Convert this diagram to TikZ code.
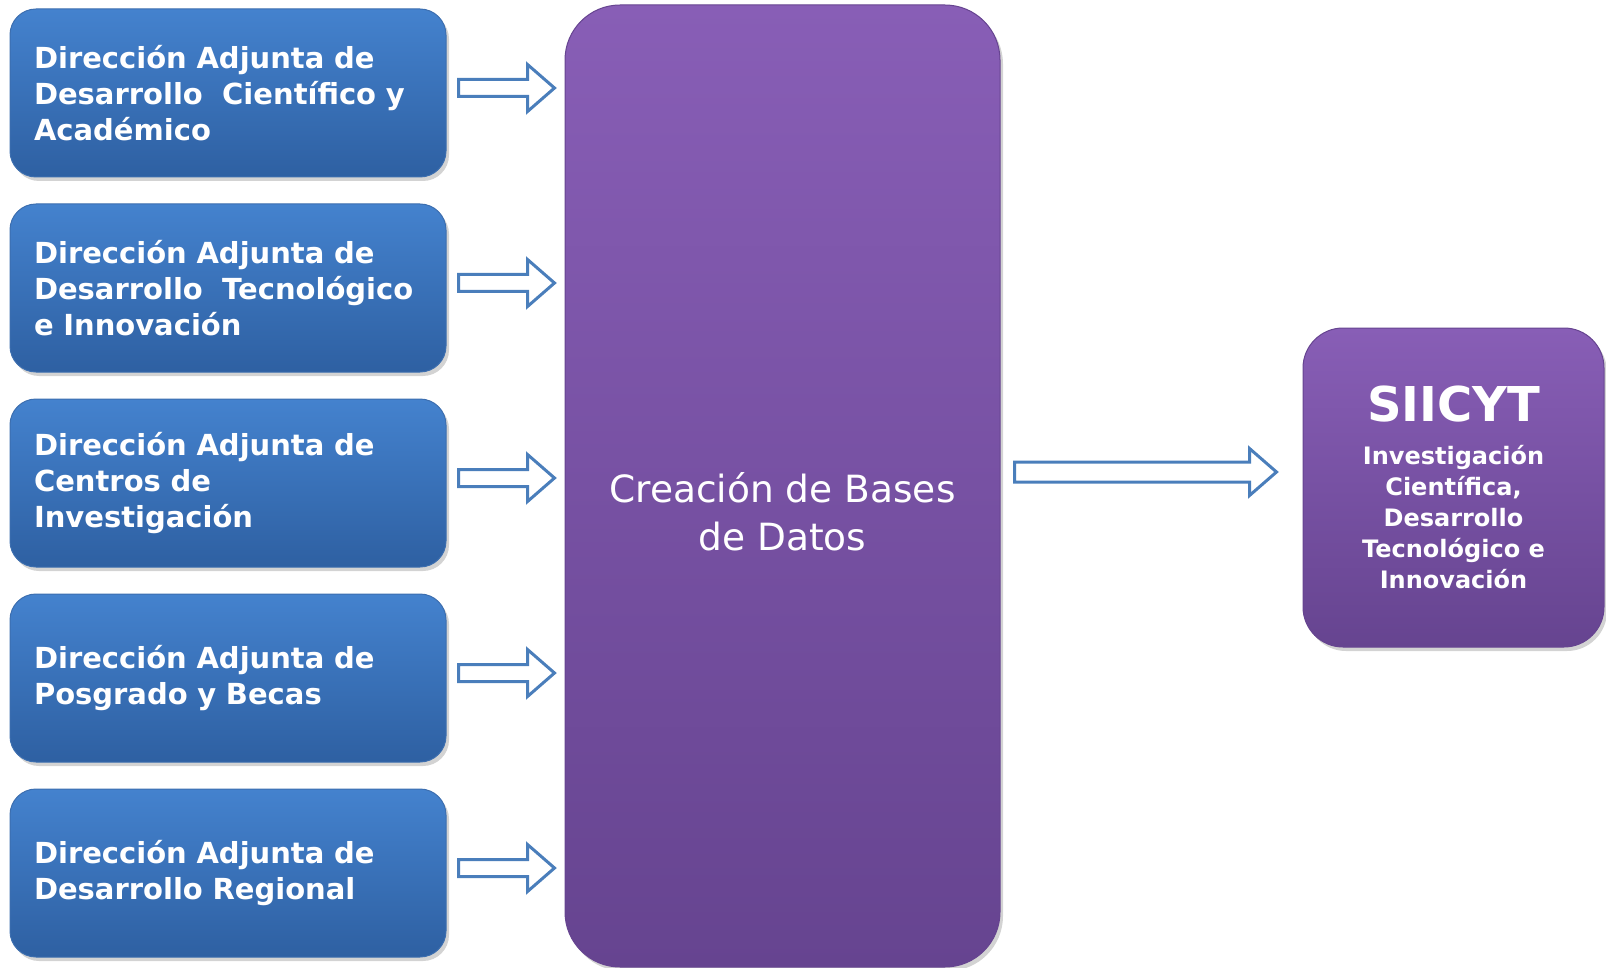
\documentclass[tikz,border=0pt]{standalone}
\usepackage{fontspec}
\setmainfont{DejaVu Sans}
\usetikzlibrary{positioning,calc,shadows}

%Colores
\definecolor{azularriba}{RGB}{68,130,206}
\definecolor{azulabajo}{RGB}{46,96,162}
\definecolor{azulborde}{RGB}{60,110,175}
\definecolor{moradoarriba}{RGB}{136,94,182}
\definecolor{moradoabajo}{RGB}{102,68,144}
\definecolor{flechaazul}{RGB}{74,126,187}

\tikzset{
  cajadir/.style={rounded corners=26pt, minimum width=436pt, minimum height=168pt,
    text width=388pt, inner xsep=24pt, align=left, draw=azulborde, line width=1pt,
    top color=azularriba, bottom color=azulabajo, text=white,
    font=\fontsize{29}{36}\selectfont\bfseries,
    drop shadow={opacity=0.35, shadow xshift=3pt, shadow yshift=-4pt}},
  cajamorada/.style={draw=moradoabajo, line width=1pt, top color=moradoarriba,
    bottom color=moradoabajo, text=white,
    drop shadow={opacity=0.35, shadow xshift=3pt, shadow yshift=-4pt}},
  flechabloque/.style={draw=flechaazul, line width=3pt, fill=white, line join=miter},
}

% flecha de bloque: origen, destino, hueco inicial, hueco final, desplazamiento, medio grosor
\newcommand{\flecha}[6]{%
  \draw[flechabloque] let \p1=($(#1.east)+(#3,#5)$), \p2=($(#2.west)+(-#4,0)$) in
    (\x1,\y1+#6pt) -- (\x2-27pt,\y1+#6pt) -- (\x2-27pt,\y1+23.5pt) -- (\x2,\y1)
    -- (\x2-27pt,\y1-23.5pt) -- (\x2-27pt,\y1-#6pt) -- (\x1,\y1-#6pt) -- cycle;
}

\begin{document}
\begin{tikzpicture}[x=1pt,y=-1pt]

\useasboundingbox (0,0) rectangle (1606,968);

%Direcciones adjuntas
\node[cajadir] (dir1) at (228,93) {Dirección Adjunta de\\Desarrollo\ \ Científico y\\Académico};
\node[cajadir, below=26pt of dir1] (dir2) {Dirección Adjunta de\\Desarrollo\ \ Tecnológico\\e Innovación};
\node[cajadir, below=26pt of dir2] (dir3) {Dirección Adjunta de\\Centros de\\Investigación};
\node[cajadir, below=26pt of dir3] (dir4) {Dirección Adjunta de\\Posgrado y Becas};
\node[cajadir, below=26pt of dir4] (dir5) {Dirección Adjunta de\\Desarrollo Regional};

%Bases de datos
\node[cajamorada, rounded corners=55pt, minimum width=435pt, minimum height=962pt] (bd) at (782.5,486) {};
\node[text=white, align=center, font=\fontsize{37.5}{48}\selectfont] (bdtexto) at ($(bd.center)+(0,26)$) {Creación de Bases\\de Datos};

%SIICYT
\node[cajamorada, rounded corners=40pt, minimum width=301pt, minimum height=319pt, align=center,
  font=\fontsize{24}{31}\selectfont\bfseries] (siicyt) at (1453.5,487.5)
  {{\fontsize{48}{52}\selectfont SIICYT}\\[12pt]Investigación\\Científica,\\Desarrollo\\Tecnológico e\\Innovación};

%Flechas
\foreach \i in {1,...,5}
  \flecha{dir\i}{bd}{12}{10}{-5}{8.5};
\flecha{bd}{siicyt}{14}{26}{-14}{10}

\end{tikzpicture}
\end{document}
